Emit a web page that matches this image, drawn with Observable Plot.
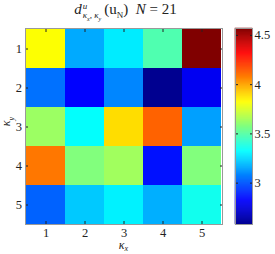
<!DOCTYPE html>
<html><head><meta charset="utf-8">
<script src="https://cdn.jsdelivr.net/npm/d3@7"></script>
<script src="https://cdn.jsdelivr.net/npm/@observablehq/plot@0.6"></script>
<style>
body{margin:0;background:#fff;}
#wrap{position:relative;width:275px;height:254px;font-family:"Liberation Serif","DejaVu Serif",serif;color:#222;}
#wrap svg{position:absolute;top:0;overflow:visible;}
.ttl{position:absolute;left:0;top:0;width:251px;text-align:center;font-size:15px;line-height:18px;white-space:nowrap;}
.xl{position:absolute;left:0;width:247px;top:240px;text-align:center;font-size:12px;line-height:10px;font-style:italic;}
.yl{position:absolute;left:2px;top:114px;font-size:12px;font-style:italic;transform:rotate(-90deg);transform-origin:center;}
sub,sup{font-size:9px;line-height:0;}
</style></head><body>
<div id="wrap">
<div class="ttl"><i>d</i><span style="display:inline-block;vertical-align:middle;line-height:9px;text-align:left;font-size:9px;margin-left:1px;"><i>u</i><br><i>κ<sub style="font-size:6px">x</sub>, κ<sub style="font-size:6px">y</sub></i></span>&thinsp;(u<sub>N</sub>)&nbsp;&nbsp;<i>N</i> = 21</div>
<div class="xl">κ<sub style="font-size:8px;vertical-align:-2px">x</sub></div>
<div class="yl">κ<sub style="font-size:8px">y</sub></div>
</div>
<script>
const kx = [1, 2, 3, 4, 5];
const ky = [1, 2, 3, 4, 5];
const row1 = [3.82, 3.16, 3.29, 3.48, 4.57];
const row2 = [3.05, 2.83, 3.09, 2.58, 2.80];
const row3 = [3.63, 3.33, 3.89, 4.13, 3.14];
const row4 = [4.09, 3.58, 3.64, 2.86, 3.58];
const row5 = [3.02, 3.22, 3.30, 3.17, 3.36];
const rows = [row1, row2, row3, row4, row5];
const cbTicks = [3, 3.5, 4, 4.5];

const cells = [];
rows.forEach((r, i) => r.forEach((v, j) => cells.push({kx: kx[j], ky: ky[i], v})));
const vmin = d3.min(cells, d => d.v), vmax = d3.max(cells, d => d.v);
const jetT = [0, 0.125, 0.375, 0.625, 0.875, 1];
const jetC = ["#000090", "#0000ff", "#00ffff", "#ffff00", "#ff0000", "#800000"];
const colorOpts = () => ({type: "linear", domain: jetT.map(t => vmin + t * (vmax - vmin)), range: jetC, interpolate: "rgb"});
const font = {fontFamily: "'Liberation Serif', 'DejaVu Serif', serif", fontSize: "12.5px", background: "transparent", color: "#222"};

const main = Plot.plot({
  width: 235, height: 254,
  marginLeft: 25, marginTop: 28, marginRight: 13, marginBottom: 30,
  x: {type: "band", domain: kx, padding: 0, label: null},
  y: {type: "band", domain: ky, padding: 0, label: null},
  color: colorOpts(),
  style: font,
  marks: [
    Plot.cell(cells, {x: "kx", y: "ky", fill: "v", shapeRendering: "crispEdges"}),
    Plot.axisX({anchor: "bottom", tickSize: -3, tickPadding: 6.5, label: null}),
    Plot.axisX({anchor: "top", tickSize: -3, tickFormat: () => "", label: null}),
    Plot.axisY({anchor: "left", tickSize: -3, tickPadding: 6.5, label: null}),
    Plot.axisY({anchor: "right", tickSize: -3, tickFormat: () => "", label: null}),
    Plot.frame({stroke: "#999"})
  ]
});
main.style.left = "0px";

const n = 200;
const slices = d3.range(n).map(i => {
  const a = vmin + (vmax - vmin) * i / n, b = vmin + (vmax - vmin) * (i + 1) / n;
  return {a, b, v: (a + b) / 2};
});
const cb = Plot.plot({
  width: 50, height: 254,
  marginLeft: 10, marginRight: 23, marginTop: 28, marginBottom: 30,
  x: {domain: [0, 1], axis: null},
  y: {domain: [vmin, vmax], label: null},
  color: colorOpts(),
  style: font,
  marks: [
    Plot.rect(slices, {x1: 0, x2: 1, y1: "a", y2: "b", fill: "v", stroke: "v", strokeWidth: 0.5}),
    Plot.axisY({anchor: "right", ticks: cbTicks, tickSize: -3, tickPadding: 5, tickFormat: d => String(d), label: null}),
    Plot.axisY({anchor: "left", ticks: cbTicks, tickSize: -3, tickFormat: () => "", label: null}),
    Plot.frame({stroke: "#999"})
  ]
});
cb.style.left = "225px";
const wrap = document.getElementById("wrap");
wrap.appendChild(main);
wrap.appendChild(cb);
</script>
</body></html>
